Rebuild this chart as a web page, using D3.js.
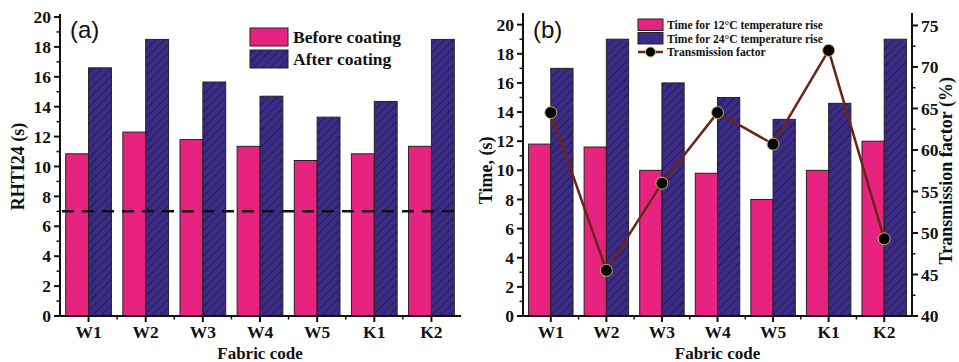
<!DOCTYPE html>
<html>
<head>
<meta charset="utf-8">
<script src="https://cdn.jsdelivr.net/npm/d3@7"></script>
<style>
  body { margin: 0; background: #fff; }
  svg { display: block; }
  .tick-label { font-family: "Liberation Serif", "Times New Roman", serif; font-weight: bold; font-size: 17.5px; fill: #111; }
  .axis-title { font-family: "Liberation Serif", "Times New Roman", serif; font-weight: bold; font-size: 18px; fill: #111; }
  .panel-tag { font-family: "Liberation Sans", Arial, sans-serif; font-size: 24px; fill: #111; }
</style>
</head>
<body>
<svg id="chart" width="959" height="362"></svg>
<script>
const fabrics = ["W1", "W2", "W3", "W4", "W5", "K1", "K2"];

// panel (a)
const beforeCoating = [10.85, 12.3, 11.8, 11.35, 10.4, 10.85, 11.35];
const afterCoating = [16.6, 18.5, 15.65, 14.7, 13.3, 14.35, 18.5];
const thresholdA = 7;
const ticksA = [0, 2, 4, 6, 8, 10, 12, 14, 16, 18, 20];

// panel (b)
const time12 = [11.8, 11.6, 10.0, 9.8, 8.0, 10.0, 12.0];
const time24 = [17.0, 19.0, 16.0, 15.0, 13.5, 14.6, 19.0];
const transmission = [64.5, 45.5, 56.0, 64.5, 60.7, 72.0, 49.3];
const ticksBLeft = [0, 2, 4, 6, 8, 10, 12, 14, 16, 18, 20];
const ticksBRight = [40, 45, 50, 55, 60, 65, 70, 75];

const PINK = "#e8237f";
const PURPLE = "#3b2a86";
const LINE = "#6b2416";

const svg = d3.select("#chart");
const defs = svg.append("defs");
const hatch = defs.append("pattern")
  .attr("id", "hatch")
  .attr("patternUnits", "userSpaceOnUse")
  .attr("width", 6).attr("height", 6)
  .attr("patternTransform", "rotate(45)");
hatch.append("rect").attr("width", 6).attr("height", 6).attr("fill", PURPLE);
hatch.append("line").attr("x1", 0).attr("y1", 0).attr("x2", 0).attr("y2", 6)
  .attr("stroke", "#111").attr("stroke-width", 1);

function yAxis(g, scale, ticks, minorStep, side) {
  const dir = side === "left" ? -1 : 1;
  const x0 = 0;
  const [lo, hi] = scale.domain();
  g.append("line").attr("x1", x0).attr("x2", x0)
    .attr("y1", scale(lo) + 1).attr("y2", scale(hi))
    .attr("stroke", "#111").attr("stroke-width", 2);
  const minors = d3.range(lo, hi + 1e-9, minorStep).filter(v => !ticks.includes(v));
  g.selectAll(null).data(minors).join("line")
    .attr("x1", x0).attr("x2", x0 + dir * 3.5)
    .attr("y1", d => scale(d)).attr("y2", d => scale(d))
    .attr("stroke", "#111").attr("stroke-width", 1.5);
  g.selectAll(null).data(ticks).join("line")
    .attr("x1", x0).attr("x2", x0 + dir * 6)
    .attr("y1", d => scale(d)).attr("y2", d => scale(d))
    .attr("stroke", "#111").attr("stroke-width", 2);
  g.selectAll(null).data(ticks).join("text")
    .attr("class", "tick-label")
    .attr("x", x0 + dir * 9)
    .attr("y", d => scale(d))
    .attr("dy", "0.35em")
    .attr("text-anchor", side === "left" ? "end" : "start")
    .text(d => d);
}

function xAxis(g, x, y0) {
  const [a, b] = x.range();
  g.append("line").attr("x1", a - 1).attr("x2", b + 1).attr("y1", y0).attr("y2", y0)
    .attr("stroke", "#111").attr("stroke-width", 2);
  const bounds = fabrics.slice(1).map(f => x(f));
  g.selectAll(null).data(bounds).join("line")
    .attr("x1", d => d).attr("x2", d => d).attr("y1", y0).attr("y2", y0 + 3.5)
    .attr("stroke", "#111").attr("stroke-width", 1.5);
  g.selectAll(null).data(fabrics).join("line")
    .attr("x1", d => x(d) + x.bandwidth() / 2).attr("x2", d => x(d) + x.bandwidth() / 2)
    .attr("y1", y0).attr("y2", y0 + 6)
    .attr("stroke", "#111").attr("stroke-width", 2);
  g.selectAll(null).data(fabrics).join("text")
    .attr("class", "tick-label")
    .attr("x", d => x(d) + x.bandwidth() / 2)
    .attr("y", y0 + 22)
    .attr("text-anchor", "middle")
    .text(d => d);
  g.append("text").attr("class", "axis-title").style("font-size", "17px")
    .attr("x", (a + b) / 2).attr("y", y0 + 43)
    .attr("text-anchor", "middle").text("Fabric code");
}

function bars(g, x, y, first, second, hatchSecond) {
  const w = x.bandwidth() * 0.4;
  const groups = fabrics.map((f, i) => ({ f, a: first[i], b: second[i] }));
  g.selectAll(null).data(groups).join("rect")
    .attr("x", d => x(d.f) + x.bandwidth() / 2 - w)
    .attr("y", d => y(d.a)).attr("width", w)
    .attr("height", d => y(0) - y(d.a))
    .attr("fill", PINK).attr("stroke", "#222").attr("stroke-width", 1);
  g.selectAll(null).data(groups).join("rect")
    .attr("x", d => x(d.f) + x.bandwidth() / 2)
    .attr("y", d => y(d.b)).attr("width", w)
    .attr("height", d => y(0) - y(d.b))
    .attr("fill", hatchSecond ? "url(#hatch)" : PURPLE)
    .attr("stroke", "#222").attr("stroke-width", 1);
}

// ---------- panel (a)
{
  const x = d3.scaleBand().domain(fabrics).range([60, 460]);
  const y = d3.scaleLinear().domain([0, 20.2]).range([316, 14]);
  const g = svg.append("g");
  bars(g, x, y, beforeCoating, afterCoating, true);

  g.append("line")
    .attr("x1", 62).attr("x2", 460)
    .attr("y1", y(thresholdA)).attr("y2", y(thresholdA))
    .attr("stroke", "#111").attr("stroke-width", 2.5)
    .attr("stroke-dasharray", "12,8");

  yAxis(g.append("g").attr("transform", "translate(60,0)"), y, ticksA, 1, "left");
  xAxis(g, x, y(0));

  g.append("text").attr("class", "axis-title")
    .attr("transform", `translate(24,${(y(0) + y(20)) / 2}) rotate(-90)`)
    .attr("text-anchor", "middle").text("RHTI24 (s)");

  g.append("text").attr("class", "panel-tag").attr("x", 70).attr("y", 38).text("(a)");

  const lg = g.append("g").attr("transform", "translate(250,28)");
  const items = [["Before coating", PINK], ["After coating", "url(#hatch)"]];
  items.forEach(([label, fill], i) => {
    lg.append("rect").attr("x", 0).attr("y", i * 22).attr("width", 38).attr("height", 18)
      .attr("fill", fill).attr("stroke", "#222").attr("stroke-width", 1);
    lg.append("text").attr("class", "axis-title").style("font-size", "17.5px")
      .attr("x", 43).attr("y", i * 22 + 9).attr("dy", "0.35em").text(label);
  });
}

// ---------- panel (b)
{
  const x = d3.scaleBand().domain(fabrics).range([523, 912]);
  const y = d3.scaleLinear().domain([0, 20.8]).range([316, 13]);
  const y2 = d3.scaleLinear().domain([40, 76.5]).range([316, 13]);
  const g = svg.append("g");
  bars(g, x, y, time12, time24, true);

  const pts = fabrics.map((f, i) => [x(f) + x.bandwidth() / 2, y2(transmission[i])]);
  g.append("path").attr("d", d3.line()(pts))
    .attr("fill", "none").attr("stroke", LINE).attr("stroke-width", 2.5);
  g.selectAll(null).data(pts).join("circle")
    .attr("cx", d => d[0]).attr("cy", d => d[1]).attr("r", 6)
    .attr("fill", "#000").attr("stroke", "#c9b46a").attr("stroke-width", 1);

  yAxis(g.append("g").attr("transform", "translate(523,0)"), y, ticksBLeft, 1, "left");
  yAxis(g.append("g").attr("transform", "translate(912,0)"), y2, ticksBRight, 2.5, "right");
  xAxis(g, x, y(0));

  g.append("text").attr("class", "axis-title")
    .attr("transform", `translate(492,${(y(0) + y(20)) / 2}) rotate(-90)`)
    .attr("text-anchor", "middle").text("Time, (s)");
  g.append("text").attr("class", "axis-title")
    .attr("transform", `translate(952,${(y2(40) + y2(75)) / 2}) rotate(-90)`)
    .attr("text-anchor", "middle").text("Transmission factor (%)");

  g.append("text").attr("class", "panel-tag").attr("x", 533).attr("y", 38).text("(b)");

  const lg = g.append("g").attr("transform", "translate(638,19)");
  const items = [["Time for 12\u00B0C temperature rise", PINK], ["Time for 24\u00B0C temperature rise", PURPLE]];
  items.forEach(([label, fill], i) => {
    lg.append("rect").attr("x", 0).attr("y", i * 13.5).attr("width", 25).attr("height", 11.5)
      .attr("fill", fill).attr("stroke", "#222").attr("stroke-width", 1);
    lg.append("text").attr("class", "axis-title").style("font-size", "11.6px")
      .attr("x", 29).attr("y", i * 13.5 + 6).attr("dy", "0.35em").text(label);
  });
  const ly = 2 * 13.5 + 6;
  lg.append("line").attr("x1", 0).attr("x2", 25).attr("y1", ly).attr("y2", ly)
    .attr("stroke", LINE).attr("stroke-width", 2.5);
  lg.append("circle").attr("cx", 12.5).attr("cy", ly).attr("r", 5)
    .attr("fill", "#000").attr("stroke", "#c9b46a").attr("stroke-width", 1);
  lg.append("text").attr("class", "axis-title").style("font-size", "11.6px")
    .attr("x", 29).attr("y", ly).attr("dy", "0.35em").text("Transmission factor");
}
</script>
</body>
</html>
